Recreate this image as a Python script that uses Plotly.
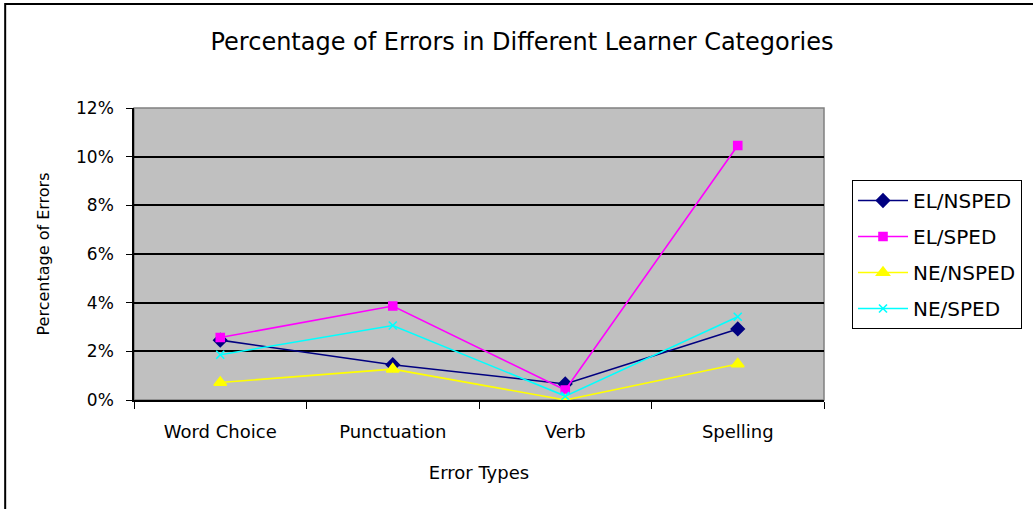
import plotly.graph_objects as go

categories = ["Word Choice", "Punctuation", "Verb", "Spelling"]
el_nsped = [2.46, 1.45, 0.66, 2.92]
el_sped = [2.57, 3.86, 0.41, 10.46]
ne_nsped = [0.72, 1.27, 0.0, 1.48]
ne_sped = [1.86, 3.06, 0.16, 3.42]

series = [
    ("EL/NSPED", el_nsped, "#000080", "diamond", 10),
    ("EL/SPED", el_sped, "#FF00FF", "square", 8),
    ("NE/NSPED", ne_nsped, "#FFFF00", "triangle-up", 11),
    ("NE/SPED", ne_sped, "#00FFFF", "x-thin", 8),
]

fig = go.Figure()
for name, vals, color, sym, size in series:
    fig.add_trace(go.Scatter(
        x=categories, y=vals, name=name, mode="lines+markers", legendgroup=name,
        line=dict(color=color, width=1.6),
        marker=dict(symbol=sym, size=size, color=color,
                    line=dict(color=color, width=1.6)),
    ))

W, H = 1033, 509
L, R, T, B = 134, 208, 108, 109
pw, ph = W - L - R, H - T - B
FONT = "DejaVu Sans, Arial"

fig.update_layout(
    width=W, height=H,
    margin=dict(l=L, r=R, t=T, b=B),
    paper_bgcolor="white",
    plot_bgcolor="#C0C0C0",
    font=dict(family=FONT, size=18, color="black"),
    title=dict(text="Percentage of Errors in Different Learner Categories",
               x=522 / W, xref="container", xanchor="center",
               y=1 - 42 / H, yref="container", yanchor="middle",
               font=dict(size=24)),
    showlegend=True,
    legend=dict(x=(852 - L) / pw, y=(400 - 180) / ph, xanchor="left", yanchor="top",
                bgcolor="white", bordercolor="black", borderwidth=1,
                font=dict(size=20), tracegroupgap=7, itemwidth=50),
    xaxis=dict(
        type="category", range=[-0.5, 3.5], tickson="boundaries",
        ticks="outside", ticklen=7, tickcolor="black", tickwidth=1,
        showline=True, linecolor="black", linewidth=1.5,
        showgrid=False, ticklabelstandoff=15,
        title=dict(text="Error Types", font=dict(size=18), standoff=25),
    ),
    yaxis=dict(
        range=[0, 12], dtick=2, ticksuffix="%",
        ticks="outside", ticklen=6, tickcolor="black",
        tickfont=dict(size=17),
        showline=True, linecolor="black", linewidth=1.5,
        showgrid=True, gridcolor="black", gridwidth=1.5,
        zeroline=False, ticklabelstandoff=9,
        title=dict(text="Percentage of Errors", font=dict(size=16), standoff=22),
    ),
    shapes=[
        dict(type="rect", xref="paper", yref="paper", x0=0, x1=1, y0=0, y1=1,
             line=dict(color="#808080", width=1.5), layer="below"),
        # chart frame: its right and bottom edges sit outside the picture
        dict(type="rect", xref="paper", yref="paper",
             x0=(5 - L) / pw, x1=1 + (R + 20) / pw,
             y0=-(B + 20) / ph, y1=1 + (T - 4) / ph,
             line=dict(color="black", width=2)),
    ],
)

fig.write_html("out.html", config={"displayModeBar": False},
               post_script="document.body.style.margin='0';")
